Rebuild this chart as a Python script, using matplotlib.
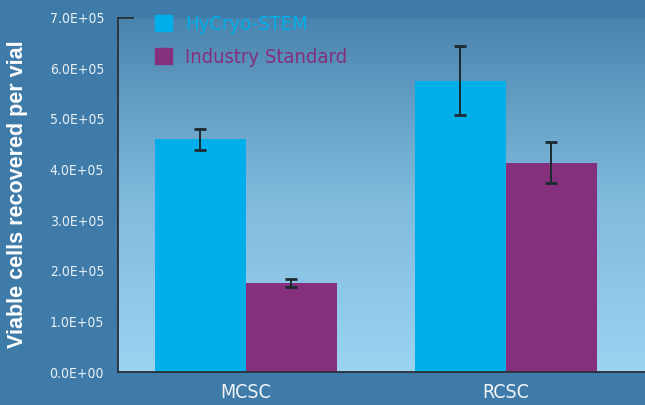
import numpy as np
import matplotlib
matplotlib.use('Agg')
import matplotlib.pyplot as plt
from matplotlib import font_manager
from matplotlib.colors import LinearSegmentedColormap
from matplotlib.patches import Patch
from matplotlib.ticker import FuncFormatter, MultipleLocator

categories = ['MCSC', 'RCSC']
series = ['HyCryo-STEM', 'Industry Standard']
hycryo = [4.60e5, 5.75e5]
hycryo_err = [2.1e4, 6.8e4]
industry = [1.76e5, 4.13e5]
industry_err = [0.85e4, 4.05e4]

cyan = '#00AEEA'
purple = '#84307C'

fig = plt.figure(figsize=(6.45, 4.05), dpi=100, facecolor='#3f7ba8')
ax = fig.add_axes([118/645, 1 - 372.3/405, 1 - 118/645, (372.3 - 17.5)/405])

x = np.arange(len(categories))
w = 0.35
ax.set_xlim(-0.492, 1.535)
ax.set_ylim(0, 7e5)

# gradient backdrop inside the plot area
grad = LinearSegmentedColormap.from_list('bg', ['#9bd3f1', '#7fb9dc', '#4a84ae'])
g = np.linspace(0, 1, 256).reshape(-1, 1)
ax.imshow(g, cmap=grad, aspect='auto', origin='lower',
          extent=(-0.492, 1.535, 0, 7e5), zorder=0)

ekw = dict(ecolor='#1c2a30', elinewidth=1.4, capsize=4, capthick=2)
ax.bar(x - w/2, hycryo, w, color=cyan, yerr=hycryo_err, error_kw=ekw, zorder=2)
ax.bar(x + w/2, industry, w, color=purple, yerr=industry_err, error_kw=ekw, zorder=2)

for s in ['top', 'right']:
    ax.spines[s].set_visible(False)
for s in ['left', 'bottom']:
    ax.spines[s].set_color('#2a2f33')
    ax.spines[s].set_linewidth(1.3)
ax.axhline(7e5, xmin=0, xmax=15/527, color='#2a2f33', lw=1.3, clip_on=False)

ax.yaxis.set_major_locator(MultipleLocator(1e5))
ax.yaxis.set_major_formatter(FuncFormatter(lambda v, p: f'{v:.1E}'))
ax.set_xticks(x)
ax.set_xticklabels(categories)
ax.tick_params(axis='both', length=0)
ax.tick_params(axis='y', pad=10)
ax.tick_params(axis='x', pad=8)
for t in ax.get_yticklabels():
    t.set_family('DejaVu Sans')
    t.set_stretch('condensed')
    t.set_fontsize(10)
    t.set_color('#e8f0f6')
for t in ax.get_xticklabels():
    t.set_family('DejaVu Sans')
    t.set_stretch('condensed')
    t.set_fontsize(14)
    t.set_color('#f0f4f8')

fig.text(17.5/645, 1 - 194/405, 'Viable cells recovered per vial', rotation=90,
         ha='center', va='center', color='white', fontsize=15.5,
         fontweight='bold', family='Liberation Sans')

handles = [Patch(color=cyan), Patch(color=purple)]
leg = ax.legend(handles, series, loc='upper left', frameon=False,
                bbox_to_anchor=(155/645, 1 - 14.5/405), bbox_transform=fig.transFigure,
                borderaxespad=0, borderpad=0, handlelength=0.85, handleheight=0.85,
                handletextpad=0.65, labelspacing=0.72,
                labelcolor=[cyan, purple],
                prop=font_manager.FontProperties(family='DejaVu Sans', stretch='condensed', size=14.5))

fig.savefig('out.png', dpi=100, facecolor=fig.get_facecolor())
